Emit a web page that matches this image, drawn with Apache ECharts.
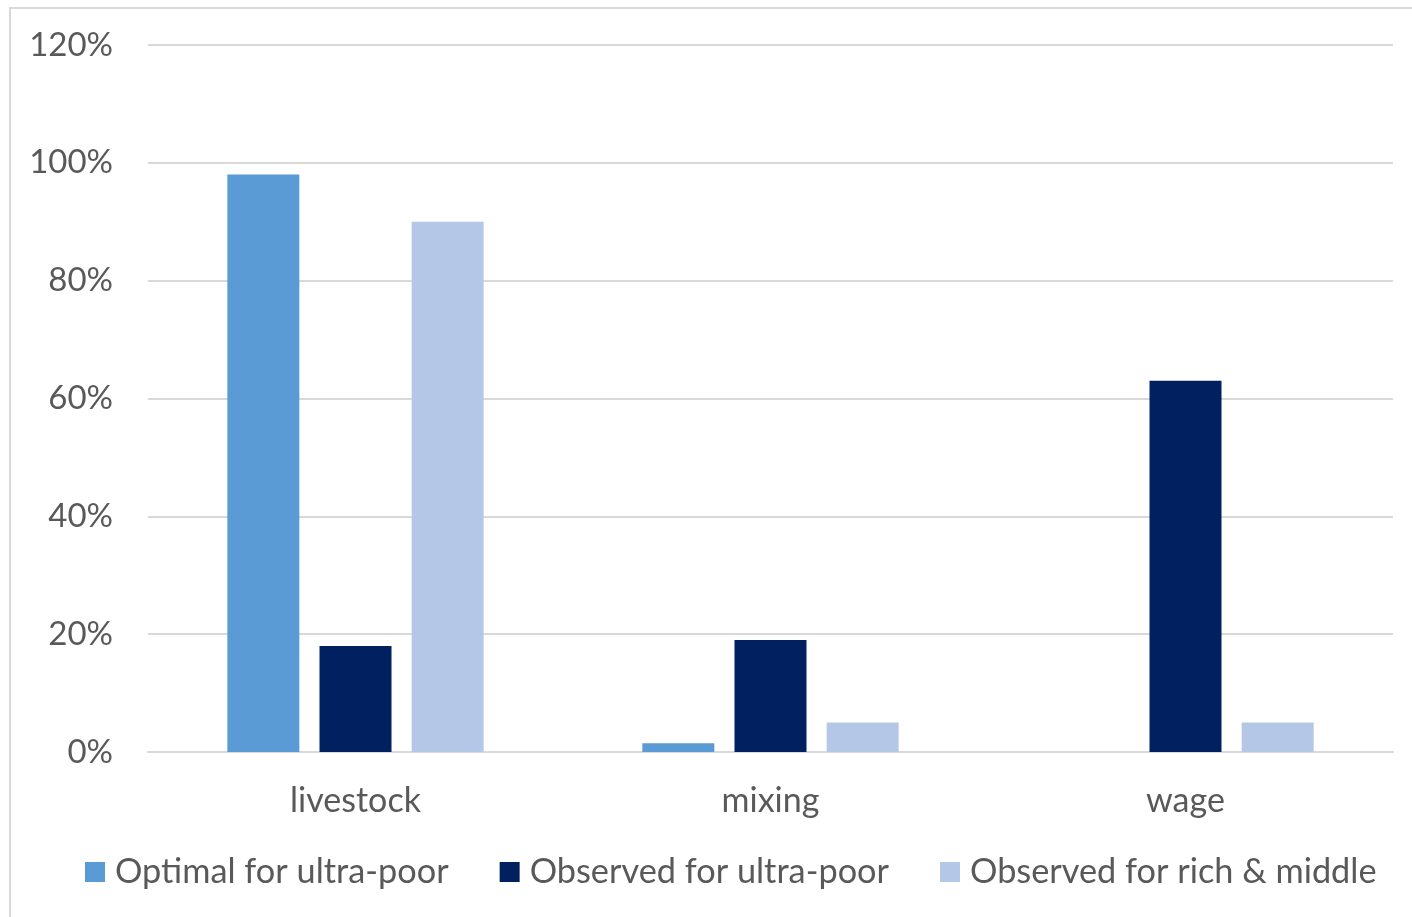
<!DOCTYPE html>
<html>
<head>
<meta charset="utf-8">
<script src="https://cdn.jsdelivr.net/npm/echarts@6/dist/echarts.min.js"></script>
<style>
  html, body { margin: 0; padding: 0; background: #fff; }
  #chart { width: 1412px; height: 917px; }
</style>
</head>
<body>
<div id="chart"></div>
<script>
// Income sources and shares (percent)
const categories = ['livestock', 'mixing', 'wage'];
const optimalUltraPoor = [98, 1.5, 0];
const observedUltraPoor = [18, 19, 63];
const observedRichMiddle = [90, 5, 5];
const seriesNames = ['Optimal for ultra-poor', 'Observed for ultra-poor', 'Observed for rich & middle'];
const colors = ['#5b9bd5', '#002060', '#b4c7e7'];

const FONT = 'Lato';
const TEXT = '#595959';

const chart = echarts.init(document.getElementById('chart'));
chart.setOption({
  animation: false,
  textStyle: { fontFamily: FONT },
  graphic: [{
    type: 'rect',
    shape: { x: 10, y: 8, width: 1420, height: 940 },
    style: { fill: 'none', stroke: '#d9d9d9', lineWidth: 2 },
    silent: true
  }],
  grid: { left: 148, right: 19, top: 45, bottom: 165, containLabel: false },
  legend: {
    top: 855,
    left: 85,
    padding: 0,
    itemWidth: 20,
    itemHeight: 20,
    itemGap: 51,
    icon: 'rect',
    textStyle: { fontFamily: FONT, fontSize: 34.3, color: TEXT, padding: [0, 0, 0, 5] },
    data: seriesNames
  },
  xAxis: {
    type: 'category',
    data: categories,
    axisLine: { lineStyle: { color: '#d9d9d9', width: 2 } },
    axisTick: { show: false },
    axisLabel: { fontFamily: FONT, fontSize: 34, color: TEXT, margin: 32 }
  },
  yAxis: {
    type: 'value',
    min: 0,
    max: 120,
    interval: 20,
    axisLine: { show: false },
    axisTick: { show: false },
    splitLine: { lineStyle: { color: '#d9d9d9', width: 2 } },
    axisLabel: { fontFamily: FONT, fontSize: 33, color: TEXT, margin: 35, formatter: '{value}%' }
  },
  series: [
    { name: seriesNames[0], type: 'bar', data: optimalUltraPoor, itemStyle: { color: colors[0] }, barWidth: 72, barGap: '28%' },
    { name: seriesNames[1], type: 'bar', data: observedUltraPoor, itemStyle: { color: colors[1] }, barWidth: 72, barGap: '28%' },
    { name: seriesNames[2], type: 'bar', data: observedRichMiddle, itemStyle: { color: colors[2] }, barWidth: 72, barGap: '28%' }
  ]
});
</script>
</body>
</html>
